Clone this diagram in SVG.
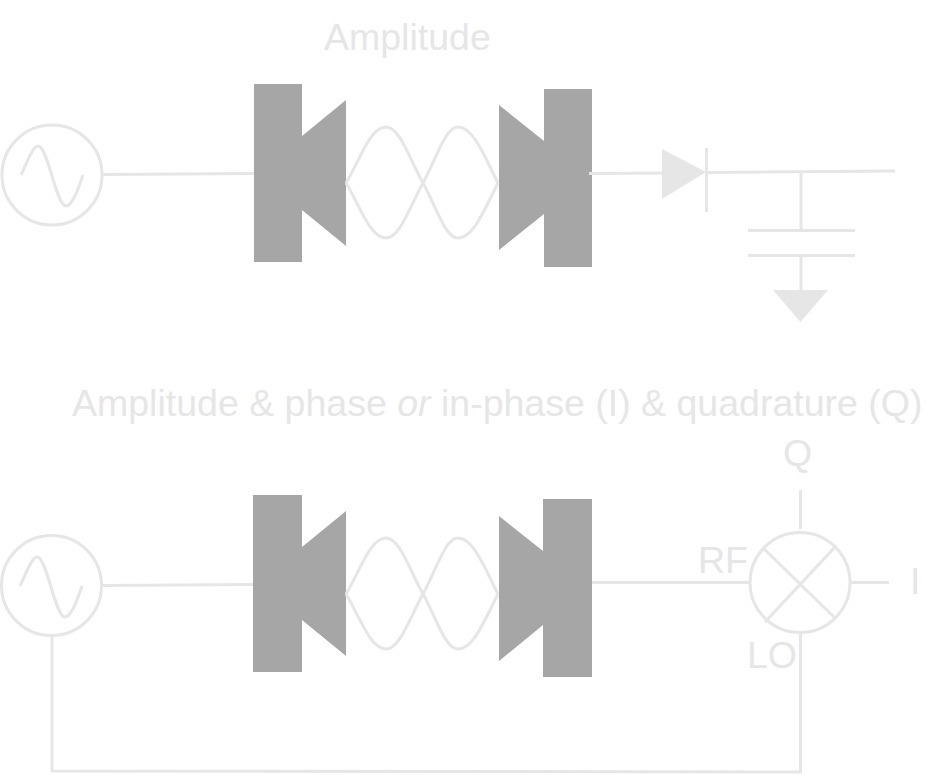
<svg xmlns="http://www.w3.org/2000/svg" width="948" height="775" viewBox="0 0 948 775">
<defs>
<style>
.w{fill:none;stroke:#e6e6e6;stroke-width:3}
.d{fill:#a6a6a6;stroke:none}
.g{fill:#e6e6e6;stroke:none}
text{font-family:"Liberation Sans",Arial,sans-serif;font-size:37.5px;fill:#e6e6e6}
</style>
</defs>
<rect width="948" height="775" fill="#fff"/>
<g id="source-top">
<circle class="w" cx="52" cy="175" r="50"/>
<path class="w" d="M21 175C28 160 33 146 38 146C48 146 56 206 66 206C72 206 78 190 83 175"/>
</g>
<g id="cavity-top">
<path class="d" d="M254 84H302V136L346 100V246L302 210V262H254Z"/>
<path class="d" d="M592 89H544V141L499 105V250L544 214V267H592Z"/>
<path class="w" d="M346 183C360 160 370 127 386 127C400 127 410 160 423 183C436 206 445 238 458 238C474 238 486 206 498 183"/>
<path class="w" d="M346 183C360 206 370 238 386 238C400 238 410 206 423 183C436 160 445 127 458 127C474 127 486 160 498 183"/>
</g>
<g id="diode">
<path class="g" d="M662 149L706 172L662 199Z"/>
<path class="w" d="M706.500 148V212"/>
</g>
<g id="capacitor">
<path class="w" d="M748 230.500H855"/>
<path class="w" d="M748 255.500H855"/>
</g>
<g id="ground">
<path class="g" d="M773 290H828L800.500 322Z"/>
</g>
<g id="source-bottom">
<circle class="w" cx="51.500" cy="585.500" r="50"/>
<path class="w" d="M20 586C27 571 32 557 37 557C47 557 55 617 65 617C71 617 77 601 82 586"/>
</g>
<g id="cavity-bottom">
<path class="d" d="M253 495H302V547L346 511V656L302 620V672H253Z"/>
<path class="d" d="M592 499H543V551L499 516V661L543 625V677H592Z"/>
<path class="w" d="M346 594C360 571 370 538 386 538C400 538 410 571 423 594C436 617 445 649 458 649C474 649 486 617 498 594"/>
<path class="w" d="M346 594C360 617 370 649 386 649C400 649 410 617 423 594C436 571 445 538 458 538C474 538 486 571 498 594"/>
</g>
<g id="mixer">
<circle class="w" cx="800" cy="582.500" r="50"/>
<path class="w" d="M763 548L835 618"/>
<path class="w" d="M835 547L765 622"/>
</g>
<g id="connectors">
<path class="w" d="M103 174.500L254 173.500"/>
<path class="w" d="M589 173.500L664 173"/>
<path class="w" d="M706 172.500L895 171"/>
<path class="w" d="M801 172V230"/>
<path class="w" d="M801 255V292"/>
<path class="w" d="M102 585.500L253 584.500"/>
<path class="w" d="M592 582.500H750"/>
<path class="w" d="M851 582.500H889"/>
<path class="w" d="M800.500 490V529"/>
<path class="w" d="M800.500 634V772L52 771V634"/>
</g>
<g id="labels">
<text x="324" y="50">Amplitude</text>
<text x="72" y="416">Amplitude &amp; phase <tspan font-style="italic">or</tspan> in-phase (I) &amp; quadrature (Q)</text>
<text x="783" y="466">Q</text>
<text x="698" y="573">RF</text>
<text x="910" y="594">I</text>
<text x="747" y="668">LO</text>
</g>
</svg>
